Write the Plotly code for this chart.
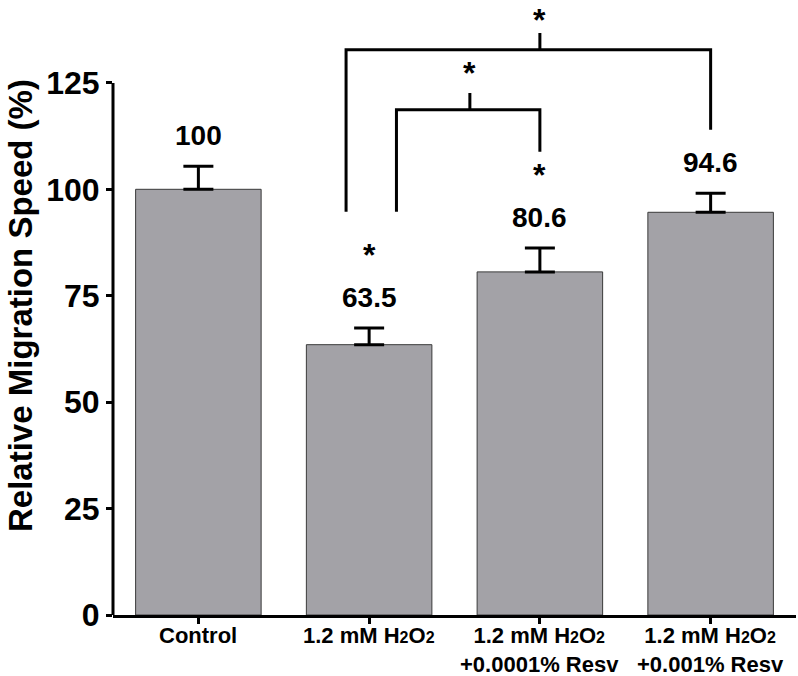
import plotly.graph_objects as go

SUB2 = '<span style="font-size:16px">2</span>'
category_labels = ["Control",
                   f"1.2 mM H{SUB2}O{SUB2}",
                   f"1.2 mM H{SUB2}O{SUB2}<br>+0.0001% Resv",
                   f"1.2 mM H{SUB2}O{SUB2}<br>+0.001% Resv"]
means = [100, 63.5, 80.6, 94.6]
errors = [5.4, 3.9, 5.6, 4.5]
value_labels = ["100", "63.5", "80.6", "94.6"]
star_bars = [1, 2]
y_ticks = [0, 25, 50, 75, 100, 125]

FONT = "Liberation Sans, Arial, sans-serif"
YMAX = 144.0
AXIS_TOP = 125
PLOT_H = 613
PLOT_W = 683

x_idx = list(range(len(category_labels)))

fig = go.Figure()
fig.add_trace(go.Bar(
    x=x_idx, y=means,
    marker=dict(color="#A3A2A7", line=dict(color="#3a3a3a", width=1)),
    width=0.735,
    error_y=dict(type="data", array=errors, symmetric=False, arrayminus=[0]*4,
                 color="black", thickness=3, width=15),
    hoverinfo="skip",
))

annotations = []
# value labels
for i, (m, e, t) in enumerate(zip(means, errors, value_labels)):
    annotations.append(dict(x=i, y=m + e + 7.2, xref="x", yref="y", text=t,
                            showarrow=False, yanchor="middle",
                            font=dict(family=FONT, size=28, color="black", weight="bold")))
# stars over bars
for i in star_bars:
    annotations.append(dict(x=i, y=means[i] + errors[i] + 17.2, xref="x", yref="y", text="*",
                            showarrow=False, yanchor="middle",
                            font=dict(family=FONT, size=32, color="black", weight="bold")))

# comparison brackets: (left x, right x, bar y, left leg bottom, right leg bottom, tick x)
brackets = [
    (0.865, 3.0, 132.8, 94.7, 114.0, 2.0),
    (1.16, 2.0, 118.7, 94.7, 108.8, 1.59),
]
shapes = []
for k, (xl, xr, yb, yl, yr, xt) in enumerate(brackets):
    path = f"M {xl},{yl} L {xl},{yb} L {xr},{yb} L {xr},{yr} M {xt},{yb} L {xt},{yb + 3.9}"
    shapes.append(dict(type="path", path=path, xref="x", yref="y",
                       line=dict(color="black", width=3)))
    if k == 0:
        # outermost star sits at the very top of the figure
        annotations.append(dict(x=xt, y=1 + 2 / PLOT_H, xref="x", yref="paper", text="*",
                                showarrow=False, yanchor="top",
                                font=dict(family=FONT, size=32, color="black", weight="bold")))
    else:
        annotations.append(dict(x=xt, y=yb + 3.9 + 4.8, xref="x", yref="y", text="*",
                                showarrow=False, yanchor="middle",
                                font=dict(family=FONT, size=32, color="black", weight="bold")))

# category labels
for i, t in enumerate(category_labels):
    annotations.append(dict(x=i, y=-6 / PLOT_H, xref="x", yref="paper", text=t,
                            showarrow=False, yanchor="top", align="center",
                            font=dict(family=FONT, size=22, color="black", weight="bold")))

# y-axis line only up to 125
shapes.append(dict(type="line", xref="paper", yref="paper", x0=0, x1=0,
                   y0=0, y1=AXIS_TOP / YMAX, line=dict(color="black", width=3)))

# y axis title
annotations.append(dict(x=-93 / PLOT_W, y=(615 - 306) / PLOT_H, xref="paper", yref="paper",
                        text="Relative Migration Speed (%)", textangle=-90, showarrow=False,
                        xanchor="center", yanchor="middle",
                        font=dict(family=FONT, size=33, color="black", weight="bold")))

fig.update_layout(
    template="none",
    width=798, height=676,
    margin=dict(l=113, r=2, t=2, b=61),
    plot_bgcolor="white", paper_bgcolor="white",
    showlegend=False,
    shapes=shapes, annotations=annotations,
    xaxis=dict(range=[-0.5, 3.5], tickvals=x_idx, showticklabels=False,
               automargin=False,
               showline=True, linecolor="black", linewidth=3,
               ticks="outside", ticklen=6, tickwidth=3, tickcolor="black",
               showgrid=False, zeroline=False),
    yaxis=dict(range=[0, YMAX], tickvals=y_ticks, ticktext=[str(v) for v in y_ticks],
               automargin=False,
               showline=False, ticks="outside", ticklen=6, tickwidth=3, tickcolor="black",
               showgrid=False, zeroline=False,
               tickfont=dict(family=FONT, size=32, color="black", weight="bold")),
)

fig.write_html("out.html", config={"displayModeBar": False},
               post_script="document.body.style.margin='0';document.body.style.overflow='hidden';")
